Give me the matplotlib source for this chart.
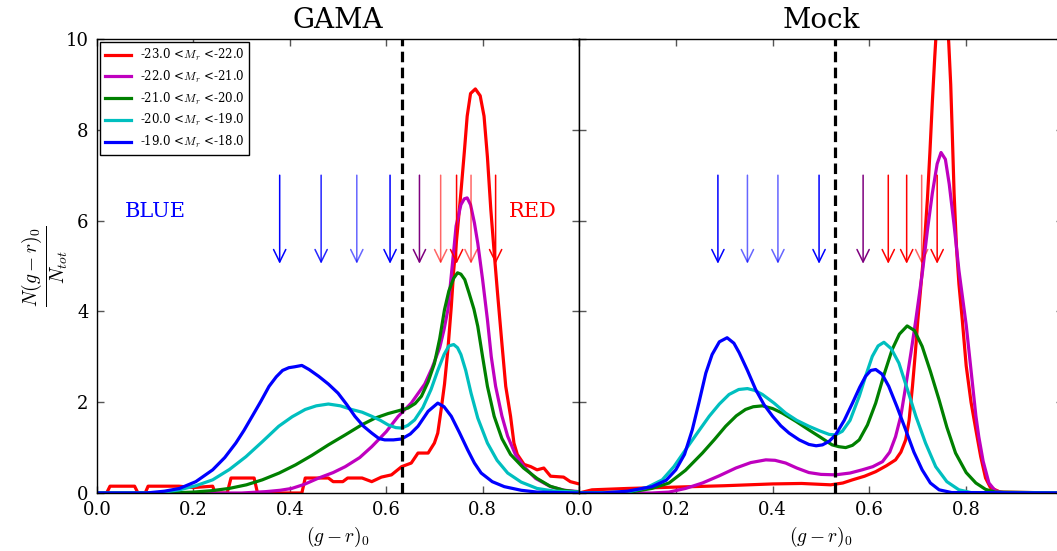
import matplotlib
matplotlib.use("Agg")
import matplotlib.pyplot as plt

plt.rcParams['font.family'] = ['DejaVu Serif']
plt.rcParams['mathtext.fontset'] = 'cm'

labels = ['-23.0 <$M_r$ <-22.0', '-22.0 <$M_r$ <-21.0', '-21.0 <$M_r$ <-20.0',
          '-20.0 <$M_r$ <-19.0', '-19.0 <$M_r$ <-18.0']
colors = ['r', 'm', 'g', 'c', 'b']
titles = ['GAMA', 'Mock']
xticks = [0.0, 0.2, 0.4, 0.6, 0.8, 1.0]
xtick_labels = ['0.0', '0.2', '0.4', '0.6', '0.8', '']
yticks = [0, 2, 4, 6, 8, 10]
divide = [0.632, 0.528]

# ---------------- GAMA ----------------
gama_red_x = [0.0, 0.02, 0.027, 0.078, 0.085, 0.1, 0.106, 0.17, 0.2, 0.24, 0.245, 0.27, 0.278,
              0.326, 0.333, 0.425, 0.432, 0.48, 0.49, 0.51, 0.52, 0.55, 0.57, 0.59, 0.611, 0.632,
              0.652, 0.666, 0.687, 0.70, 0.707, 0.714, 0.721, 0.728, 0.735, 0.74, 0.748, 0.755,
              0.762, 0.768, 0.775, 0.785, 0.795, 0.803, 0.81, 0.817, 0.824, 0.831, 0.84, 0.848,
              0.858, 0.865, 0.872, 0.886, 0.9, 0.913, 0.927, 0.941, 0.968, 0.982, 1.0]
gama_red_y = [0.0, 0.0, 0.15, 0.15, 0.0, 0.0, 0.15, 0.15, 0.12, 0.15, 0.0, 0.0, 0.33,
              0.33, 0.0, 0.0, 0.33, 0.33, 0.25, 0.25, 0.33, 0.33, 0.25, 0.35, 0.40, 0.58,
              0.66, 0.88, 0.88, 1.1, 1.32, 1.84, 2.4, 3.16, 4.1, 4.9, 5.8, 6.62,
              7.5, 8.3, 8.8, 8.9, 8.75, 8.3, 7.4, 6.25, 5.3, 4.4, 3.3, 2.35,
              1.69, 1.1, 0.85, 0.63, 0.58, 0.51, 0.55, 0.37, 0.35, 0.25, 0.2]

gama_mag_x = [0.0, 0.3, 0.35, 0.38, 0.404, 0.43, 0.46, 0.49, 0.515, 0.545, 0.57, 0.6, 0.625,
              0.652, 0.68, 0.695, 0.711, 0.72, 0.728, 0.737, 0.745, 0.755, 0.762, 0.768, 0.775,
              0.783, 0.79, 0.80, 0.81, 0.818, 0.827, 0.84, 0.852, 0.868, 0.886, 0.91, 0.941,
              0.97, 1.0]
gama_mag_y = [0.0, 0.0, 0.03, 0.06, 0.1, 0.19, 0.33, 0.45, 0.58, 0.78, 1.02, 1.35, 1.69,
              1.98, 2.4, 2.75, 3.2, 3.6, 4.04, 5.0, 5.88, 6.35, 6.48, 6.5, 6.35,
              5.95, 5.5, 4.7, 3.82, 3.0, 2.35, 1.7, 1.25, 0.85, 0.58, 0.32, 0.14,
              0.06, 0.03]

gama_grn_x = [0.0, 0.15, 0.2, 0.237, 0.274, 0.31, 0.343, 0.378, 0.412, 0.446, 0.48, 0.515,
              0.549, 0.577, 0.604, 0.625, 0.645, 0.66, 0.673, 0.687, 0.70, 0.711, 0.721, 0.73,
              0.74, 0.748, 0.755, 0.763, 0.772, 0.782, 0.79, 0.80, 0.81, 0.824, 0.84, 0.858,
              0.885, 0.913, 0.94, 0.968, 1.0]
gama_grn_y = [0.0, 0.0, 0.02, 0.05, 0.10, 0.18, 0.29, 0.44, 0.62, 0.83, 1.06, 1.28,
              1.50, 1.65, 1.75, 1.81, 1.87, 1.97, 2.13, 2.45, 2.85, 3.4, 4.04, 4.45,
              4.73, 4.85, 4.82, 4.7, 4.4, 4.05, 3.67, 3.0, 2.35, 1.69, 1.2, 0.85,
              0.55, 0.32, 0.15, 0.06, 0.02]

gama_cyn_x = [0.0, 0.12, 0.145, 0.171, 0.205, 0.24, 0.275, 0.309, 0.343, 0.377, 0.405, 0.432,
              0.455, 0.48, 0.505, 0.528, 0.55, 0.57, 0.588, 0.604, 0.62, 0.632, 0.645, 0.659,
              0.676, 0.693, 0.707, 0.72, 0.73, 0.74, 0.748, 0.755, 0.765, 0.776, 0.79, 0.81,
              0.83, 0.852, 0.88, 0.913, 0.95, 1.0]
gama_cyn_y = [0.0, 0.0, 0.03, 0.07, 0.16, 0.29, 0.52, 0.80, 1.13, 1.47, 1.68, 1.84,
              1.92, 1.96, 1.92, 1.84, 1.78, 1.69, 1.6, 1.50, 1.44, 1.43, 1.49, 1.61,
              1.88, 2.28, 2.7, 3.05, 3.24, 3.27, 3.2, 3.05, 2.7, 2.2, 1.65, 1.10,
              0.72, 0.44, 0.24, 0.1, 0.04, 0.02]

gama_blu_x = [0.0, 0.102, 0.14, 0.171, 0.205, 0.24, 0.265, 0.288, 0.305, 0.322, 0.34, 0.357,
              0.372, 0.385, 0.398, 0.41, 0.425, 0.44, 0.46, 0.48, 0.50, 0.518, 0.535, 0.553,
              0.57, 0.585, 0.597, 0.615, 0.632, 0.65, 0.666, 0.687, 0.707, 0.72, 0.735, 0.752,
              0.769, 0.783, 0.797, 0.82, 0.845, 0.88, 0.913, 1.0]
gama_blu_y = [0.0, 0.0, 0.04, 0.10, 0.25, 0.51, 0.78, 1.10, 1.38, 1.69, 2.02, 2.35,
              2.56, 2.7, 2.76, 2.78, 2.81, 2.72, 2.57, 2.4, 2.2, 1.95, 1.69, 1.47,
              1.32, 1.2, 1.17, 1.17, 1.19, 1.3, 1.47, 1.8, 1.98, 1.9, 1.69, 1.33,
              0.95, 0.66, 0.44, 0.25, 0.14, 0.06, 0.02, 0.0]

# ---------------- Mock ----------------
mock_red_x = [0.0, 0.027, 0.1, 0.2, 0.3, 0.4, 0.46, 0.52, 0.545, 0.565, 0.59, 0.613, 0.635,
              0.654, 0.665, 0.675, 0.682, 0.689, 0.695, 0.70, 0.705, 0.71, 0.715, 0.72, 0.725,
              0.73, 0.735, 0.74, 0.745, 0.75, 0.755, 0.76, 0.764, 0.768, 0.771, 0.775, 0.78,
              0.785, 0.792, 0.80, 0.81, 0.82, 0.83, 0.84, 0.85, 0.87, 1.0]
mock_red_y = [0.0, 0.07, 0.10, 0.13, 0.16, 0.20, 0.21, 0.18, 0.22, 0.29, 0.37, 0.47, 0.6,
              0.73, 0.9, 1.17, 1.6, 2.35, 3.1, 3.8, 4.4, 5.0, 5.7, 6.5, 7.5,
              8.6, 9.6, 10.5, 11.0, 11.2, 11.0, 10.6, 9.9, 9.0, 8.0, 6.6, 5.4,
              4.6, 3.8, 2.8, 2.0, 1.39, 0.8, 0.33, 0.12, 0.02, 0.0]

mock_mag_x = [0.0, 0.15, 0.186, 0.22, 0.255, 0.29, 0.324, 0.355, 0.386, 0.405, 0.427, 0.45,
              0.475, 0.5, 0.53, 0.56, 0.585, 0.607, 0.627, 0.642, 0.654, 0.665, 0.675, 0.686,
              0.696, 0.71, 0.72, 0.73, 0.74, 0.748, 0.757, 0.765, 0.775, 0.785, 0.80, 0.81,
              0.82, 0.826, 0.835, 0.847, 0.86, 0.88, 1.0]
mock_mag_y = [0.0, 0.0, 0.02, 0.1, 0.22, 0.38, 0.55, 0.67, 0.73, 0.72, 0.66, 0.55,
              0.45, 0.41, 0.40, 0.44, 0.51, 0.58, 0.69, 0.9, 1.24, 1.7, 2.35, 3.1,
              3.82, 4.9, 5.8, 6.6, 7.25, 7.5, 7.35, 6.8, 5.9, 4.9, 3.7, 2.7,
              1.7, 1.24, 0.7, 0.22, 0.05, 0.0, 0.0]

mock_grn_x = [0.0, 0.1, 0.15, 0.186, 0.22, 0.255, 0.28, 0.303, 0.325, 0.344, 0.36, 0.379,
              0.4, 0.42, 0.448, 0.475, 0.5, 0.523, 0.537, 0.551, 0.565, 0.579, 0.596, 0.613,
              0.63, 0.647, 0.662, 0.678, 0.693, 0.709, 0.726, 0.744, 0.76, 0.778, 0.8, 0.82,
              0.84, 0.86, 1.0]
mock_grn_y = [0.0, 0.01, 0.1, 0.22, 0.5, 0.88, 1.18, 1.47, 1.7, 1.84, 1.9, 1.92,
              1.86, 1.76, 1.58, 1.39, 1.22, 1.06, 1.02, 1.00, 1.05, 1.17, 1.5, 1.98,
              2.6, 3.16, 3.5, 3.68, 3.58, 3.23, 2.68, 2.05, 1.45, 0.88, 0.45, 0.22,
              0.08, 0.02, 0.0]

mock_cyn_x = [0.0, 0.1, 0.14, 0.172, 0.196, 0.22, 0.245, 0.269, 0.29, 0.31, 0.33, 0.348,
              0.363, 0.379, 0.403, 0.427, 0.45, 0.475, 0.497, 0.517, 0.53, 0.544, 0.56, 0.579,
              0.593, 0.606, 0.618, 0.63, 0.645, 0.661, 0.678, 0.696, 0.716, 0.737, 0.76, 0.785,
              0.81, 1.0]
mock_cyn_y = [0.0, 0.02, 0.12, 0.29, 0.58, 0.95, 1.33, 1.69, 1.96, 2.17, 2.28, 2.30,
              2.26, 2.17, 1.98, 1.76, 1.6, 1.47, 1.37, 1.29, 1.28, 1.36, 1.6, 2.13,
              2.6, 3.01, 3.24, 3.32, 3.18, 2.86, 2.3, 1.69, 1.1, 0.58, 0.25, 0.07,
              0.01, 0.0]

mock_blu_x = [0.0, 0.048, 0.1, 0.151, 0.18, 0.2, 0.218, 0.234, 0.248, 0.262, 0.275, 0.29,
              0.306, 0.32, 0.331, 0.348, 0.365, 0.382, 0.40, 0.417, 0.434, 0.455, 0.475, 0.49,
              0.503, 0.517, 0.53, 0.548, 0.565, 0.58, 0.592, 0.603, 0.613, 0.626, 0.64, 0.657,
              0.675, 0.692, 0.709, 0.726, 0.744, 0.77, 1.0]
mock_blu_y = [0.0, 0.0, 0.04, 0.14, 0.28, 0.51, 0.85, 1.39, 2.0, 2.64, 3.05, 3.33,
              3.42, 3.3, 3.09, 2.7, 2.28, 1.95, 1.69, 1.48, 1.32, 1.17, 1.07, 1.04,
              1.06, 1.14, 1.28, 1.6, 1.98, 2.33, 2.57, 2.7, 2.72, 2.62, 2.35, 1.9,
              1.39, 0.9, 0.51, 0.22, 0.07, 0.01, 0.0]

gama_curves = [(gama_red_x, gama_red_y), (gama_mag_x, gama_mag_y), (gama_grn_x, gama_grn_y),
               (gama_cyn_x, gama_cyn_y), (gama_blu_x, gama_blu_y)]
mock_curves = [(mock_red_x, mock_red_y), (mock_mag_x, mock_mag_y), (mock_grn_x, mock_grn_y),
               (mock_cyn_x, mock_cyn_y), (mock_blu_x, mock_blu_y)]

# arrows (peak positions)
gama_arrow_x = [0.379, 0.465, 0.539, 0.608, 0.669, 0.713, 0.746, 0.776, 0.827]
mock_arrow_x = [0.287, 0.348, 0.411, 0.496, 0.587, 0.639, 0.677, 0.708, 0.740]
arrow_colors = ['b', 'b', 'b', 'b', '#7f007f', 'r', 'r', 'r', 'r']
gama_arrow_alpha = [1.0, 0.85, 0.6, 1.0, 1.0, 0.6, 1.0, 0.6, 1.0]
mock_arrow_alpha = [1.0, 0.6, 0.6, 1.0, 1.0, 1.0, 1.0, 0.6, 1.0]
arrow_top, arrow_tip = 7.0, 5.05

fig = plt.figure(figsize=(10.57, 5.51), dpi=100)
axL = fig.add_axes([97/1057, 58/551, 482/1057, 454/551])
axR = fig.add_axes([579/1057, 58/551, 484/1057, 454/551])

for ax, curves, title, dv, ax_x, ax_a in [
        (axL, gama_curves, titles[0], divide[0], gama_arrow_x, gama_arrow_alpha),
        (axR, mock_curves, titles[1], divide[1], mock_arrow_x, mock_arrow_alpha)]:
    for (cx, cy), col, lab in zip(curves, colors, labels):
        ax.plot(cx, cy, color=col, lw=2.3, label=lab, solid_joinstyle='round')
    ax.axvline(dv, color='k', lw=2.3, ls=(0, (3.3, 1.7)))
    for xa, col, al in zip(ax_x, arrow_colors, ax_a):
        ax.annotate('', xy=(xa, arrow_tip), xytext=(xa, arrow_top),
                    arrowprops=dict(arrowstyle='->,head_length=0.45,head_width=0.22',
                                    color=col, alpha=al, lw=1.1, mutation_scale=20,
                                    shrinkA=0, shrinkB=0))
    ax.set_xlim(0, 1.0)
    ax.set_ylim(0, 10)
    ax.set_xticks(xticks)
    ax.set_xticklabels(xtick_labels)
    ax.set_yticks(yticks)
    ax.tick_params(direction='in', top=True, right=True, length=5, width=1,
                   color='#555555', labelsize=13, pad=6)
    ax.set_title(title, fontsize=20, pad=8)
    ax.set_xlabel(r'$(g-r)_0$', fontsize=14, labelpad=4)
    for s in ax.spines.values():
        s.set_color('black')
        s.set_linewidth(1.0)

axR.set_yticklabels([])
axL.set_ylabel(r'$\frac{N(g-r)_0}{N_{tot}}$', fontsize=20, labelpad=-3)
axL.text(0.12, 6.2, 'BLUE', color='b', fontsize=15, ha='center', va='center')
axL.text(0.905, 6.2, 'RED', color='r', fontsize=15, ha='center', va='center')

leg = axL.legend(loc='upper left', fontsize=8.5, frameon=True, fancybox=False,
                 edgecolor='black', framealpha=1, borderaxespad=0.25, labelspacing=0.5,
                 handlelength=2.2, borderpad=0.4)
leg.get_frame().set_linewidth(1.0)

fig.savefig('out.png', dpi=100)
